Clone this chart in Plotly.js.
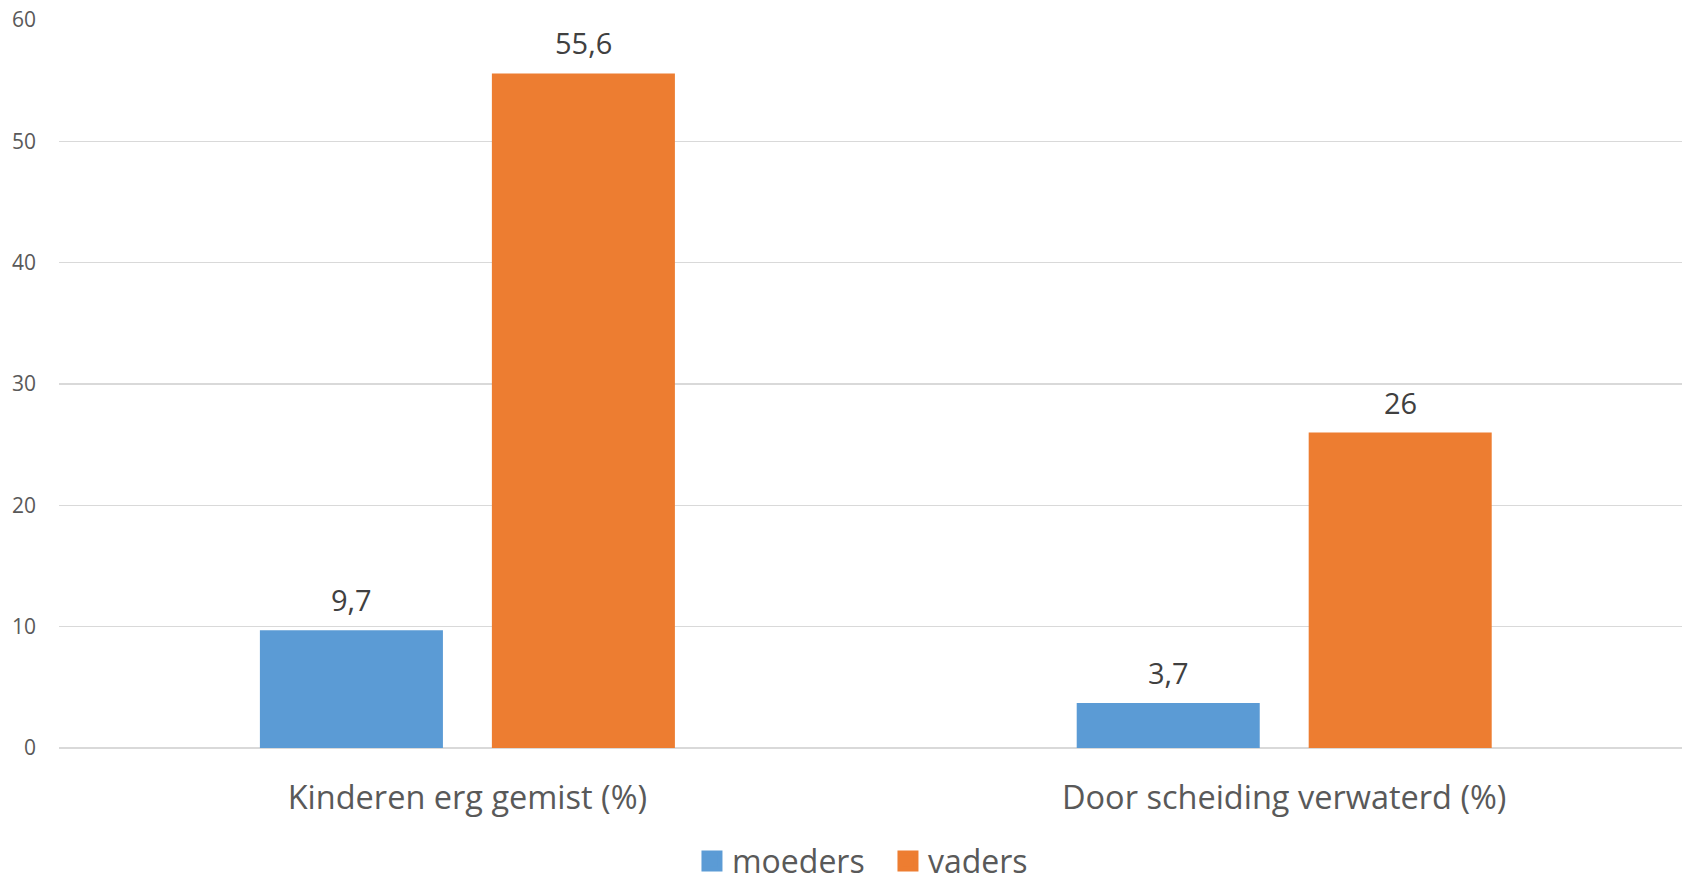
<!DOCTYPE html>
<html>
<head>
<meta charset="utf-8">
<script src="https://cdn.plot.ly/plotly-3.0.1.min.js"></script>
<style>
  html, body { margin: 0; padding: 0; background: #ffffff; }
  #chart { width: 1682px; height: 881px; }
</style>
</head>
<body>
<div id="chart"></div>
<script>
// ---- data ----
const categories = ["Kinderen erg gemist (%)", "Door scheiding verwaterd (%)"];
const moeders = [9.7, 3.7];
const vaders = [55.6, 26];
const seriesNames = ["moeders", "vaders"];
const yTicks = [0, 10, 20, 30, 40, 50, 60];

// ---- styling ----
const colors = ["#5B9BD5", "#ED7D31"];
const FONT = "Open Sans, Noto Sans, sans-serif";
const BARGAP = 0.432;
const BARGROUPGAP = 0.211;

const seriesValues = [moeders, vaders];

const barTraces = seriesValues.map((vals, s) => ({
  type: "bar",
  name: seriesNames[s],
  x: categories,
  y: vals,
  marker: { color: colors[s] },
  showlegend: false,
  hoverinfo: "x+y+name"
}));

// legend-only entries (no data points) so the legend squares can be larger
const legendTraces = seriesNames.map((n, s) => ({
  type: "scatter",
  mode: "markers",
  name: n,
  x: [null],
  y: [null],
  marker: { symbol: "square", size: 16, color: colors[s], line: { color: colors[s], width: 5 } },
  showlegend: true,
  hoverinfo: "skip"
}));

// value labels above bars, positioned with the bar grouping geometry
const annotations = [];
seriesValues.forEach((vals, s) => {
  const nSeries = seriesValues.length;
  const slot = (1 - BARGAP) / nSeries;
  vals.forEach((v, i) => {
    annotations.push({
      xref: "x", yref: "y",
      x: i - (1 - BARGAP) / 2 + slot * (s + 0.5),
      y: v,
      text: String(v).replace(".", ","),
      showarrow: false,
      xanchor: "center",
      yanchor: "bottom",
      yshift: 9,
      font: { family: FONT, size: 29, color: "#404040" }
    });
  });
});

const layout = {
  width: 1682,
  height: 881,
  paper_bgcolor: "#ffffff",
  plot_bgcolor: "#ffffff",
  font: { family: FONT, color: "#595959" },
  separators: ",.",
  margin: { l: 59, r: 0, t: 20, b: 133, pad: 0 },
  barmode: "group",
  bargap: BARGAP,
  bargroupgap: BARGROUPGAP,
  xaxis: {
    type: "category",
    range: [-0.5, 1.487],
    showgrid: false,
    showline: false,
    zeroline: false,
    ticks: "",
    ticklabelstandoff: 27,
    tickfont: { family: FONT, size: 32.5, color: "#595959" }
  },
  yaxis: {
    range: [0, 60],
    tickvals: yTicks,
    ticktext: yTicks.map(String),
    showgrid: true,
    gridcolor: "#D9D9D9",
    gridwidth: 1.5,
    zeroline: true,
    zerolinecolor: "#D9D9D9",
    zerolinewidth: 1.5,
    showline: false,
    ticks: "",
    ticklabelstandoff: 22,
    tickfont: { family: FONT, size: 21, color: "#595959" }
  },
  legend: {
    orientation: "h",
    xref: "container",
    yref: "container",
    x: 0.4114,
    xanchor: "left",
    y: 0.0225,
    yanchor: "middle",
    itemsizing: "trace",
    entrywidth: 151,
    font: { family: FONT, size: 32, color: "#595959" },
    bgcolor: "rgba(0,0,0,0)"
  },
  annotations: annotations,
  showlegend: true
};

Plotly.newPlot("chart", barTraces.concat(legendTraces), layout, { displayModeBar: false, staticPlot: true });
</script>
</body>
</html>
